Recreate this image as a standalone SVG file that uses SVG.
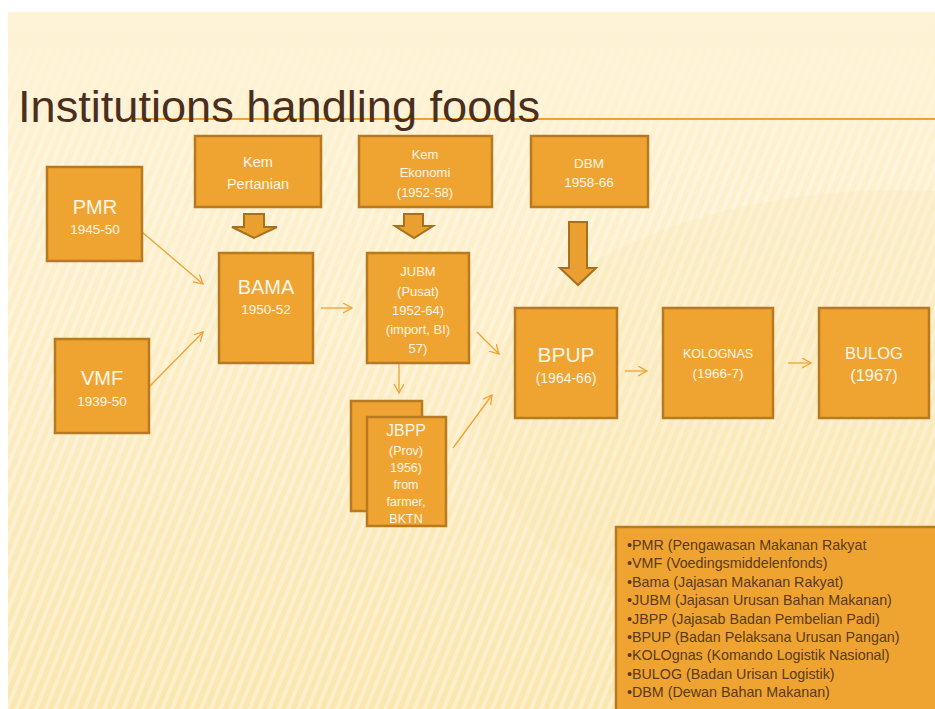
<svg xmlns="http://www.w3.org/2000/svg" width="935" height="709" viewBox="0 0 935 709">
<defs>
<linearGradient id="bg" x1="0" y1="0" x2="0" y2="1">
<stop offset="0" stop-color="#FDF3D6"/>
<stop offset="0.5" stop-color="#FCEDC4"/>
<stop offset="1" stop-color="#FBE6AE"/>
</linearGradient>
<pattern id="stripes" width="9" height="9" patternUnits="userSpaceOnUse" patternTransform="rotate(22)">
<rect width="4" height="9" fill="#FFFFFF" opacity="0.35"/>
</pattern>
<linearGradient id="fade" x1="0" y1="0" x2="0" y2="1">
<stop offset="0" stop-color="#fff" stop-opacity="0"/>
<stop offset="0.25" stop-color="#fff" stop-opacity="1"/>
<stop offset="1" stop-color="#fff" stop-opacity="1"/>
</linearGradient>
<mask id="m"><rect x="8" y="12" width="927" height="697" fill="url(#fade)"/></mask>
<marker id="ah" markerWidth="12" markerHeight="12" refX="9" refY="5" orient="auto" markerUnits="userSpaceOnUse">
<path d="M0,0 L9,5 L0,10" fill="none" stroke="#EFA233" stroke-width="1.3"/>
</marker>
<style>
.box{fill:#EFA431;stroke:#B87A20;stroke-width:2.5}
.blk{fill:#E9A030;stroke:#A86F1C;stroke-width:2}
.t{font-family:"Liberation Sans",Arial,sans-serif;fill:#FFF6E8;text-anchor:middle}
.lg{font-family:"Liberation Sans",Arial,sans-serif;fill:#5A391C;font-size:14.3px}
.c{fill:none;stroke:#EFA233;stroke-width:1.3;marker-end:url(#ah)}
</style>
</defs>
<rect width="935" height="709" fill="#FFFFFF"/>
<rect x="8" y="12" width="927" height="697" fill="url(#bg)"/>
<rect x="8" y="12" width="927" height="697" fill="url(#stripes)" mask="url(#m)"/>
<ellipse cx="900" cy="420" rx="420" ry="230" fill="#F8E3A8" opacity="0.18"/>
<line x1="125" y1="119" x2="935" y2="119" stroke="#EFA233" stroke-width="2"/>
<text x="18" y="122" font-family="Liberation Sans,Arial,sans-serif" font-size="44" fill="#4A2E1E" textLength="522" lengthAdjust="spacingAndGlyphs">Institutions handling foods</text>

<g id="connectors">
<line class="c" x1="142" y1="232" x2="203" y2="284"/>
<line class="c" x1="150" y1="386" x2="203" y2="332"/>
<line class="c" x1="321" y1="308" x2="352" y2="308"/>
<line class="c" x1="477" y1="332" x2="499" y2="354"/>
<line class="c" x1="399" y1="363" x2="399" y2="393"/>
<line class="c" x1="453" y1="448" x2="492" y2="395"/>
<line class="c" x1="625" y1="371" x2="647" y2="371"/>
<line class="c" x1="788" y1="363" x2="811" y2="363"/>
<path class="blk" d="M244,214 L264,214 L264,227 L277,227 L254,238 L232,227 L244,227 Z"/>
<path class="blk" d="M404,214 L423,214 L423,226 L433,226 L414,238 L395,226 L404,226 Z"/>
<path class="blk" d="M569,222 L587,222 L587,268 L596,268 L578,285 L560,268 L569,268 Z"/>
</g>

<g id="pmr">
<rect class="box" x="47" y="167" width="95" height="94"/>
<text class="t" x="95" y="214" font-size="20">PMR</text>
<text class="t" x="95" y="234" font-size="13.5">1945-50</text>
</g>
<g id="vmf">
<rect class="box" x="55" y="339" width="94" height="94"/>
<text class="t" x="102" y="385" font-size="20">VMF</text>
<text class="t" x="102" y="406" font-size="13.5">1939-50</text>
</g>
<g id="kem-pertanian">
<rect class="box" x="195" y="136" width="126" height="71"/>
<text class="t" x="258" y="167" font-size="14.5">Kem</text>
<text class="t" x="258" y="189" font-size="14.5">Pertanian</text>
</g>
<g id="bama">
<rect class="box" x="219" y="253" width="94" height="110"/>
<text class="t" x="266" y="294" font-size="20">BAMA</text>
<text class="t" x="266" y="314" font-size="13.5">1950-52</text>
</g>
<g id="kem-ekonomi">
<rect class="box" x="359" y="136" width="133" height="71"/>
<text class="t" x="425" y="159" font-size="13">Kem</text>
<text class="t" x="425" y="177" font-size="13">Ekonomi</text>
<text class="t" x="425" y="197" font-size="13">(1952-58)</text>
</g>
<g id="dbm">
<rect class="box" x="531" y="136" width="117" height="71"/>
<text class="t" x="589" y="168" font-size="13.5">DBM</text>
<text class="t" x="589" y="187" font-size="13.5">1958-66</text>
</g>
<g id="jubm">
<rect class="box" x="367" y="253" width="102" height="110"/>
<text class="t" x="418" y="276" font-size="13">JUBM</text>
<text class="t" x="418" y="296" font-size="13">(Pusat)</text>
<text class="t" x="418" y="315" font-size="13">1952-64)</text>
<text class="t" x="418" y="334" font-size="13">(import, BI)</text>
<text class="t" x="418" y="353" font-size="13">57)</text>
</g>
<g id="jbpp">
<rect class="box" x="351" y="401" width="71" height="110"/>
<rect class="box" x="367" y="417" width="79" height="109"/>
<text class="t" x="406" y="436" font-size="16">JBPP</text>
<text class="t" x="406" y="455" font-size="12.5">(Prov)</text>
<text class="t" x="406" y="472" font-size="12.5">1956)</text>
<text class="t" x="406" y="489" font-size="12.5">from</text>
<text class="t" x="406" y="506" font-size="12.5">farmer,</text>
<text class="t" x="406" y="523" font-size="12.5">BKTN</text>
</g>
<g id="bpup">
<rect class="box" x="515" y="308" width="102" height="110"/>
<text class="t" x="566" y="362" font-size="21">BPUP</text>
<text class="t" x="566" y="383" font-size="14">(1964-66)</text>
</g>
<g id="kolognas">
<rect class="box" x="663" y="308" width="110" height="110"/>
<text class="t" x="718" y="358" font-size="12.5">KOLOGNAS</text>
<text class="t" x="718" y="378" font-size="13.5">(1966-7)</text>
</g>
<g id="bulog">
<rect class="box" x="819" y="308" width="110" height="110"/>
<text class="t" x="874" y="359" font-size="16.5">BULOG</text>
<text class="t" x="874" y="381" font-size="16.5">(1967)</text>
</g>
<g id="legend">
<rect class="box" x="616" y="527" width="325" height="190"/>
<text class="lg" x="627" y="550">•PMR (Pengawasan Makanan Rakyat</text>
<text class="lg" x="627" y="568">•VMF (Voedingsmiddelenfonds)</text>
<text class="lg" x="627" y="587">•Bama (Jajasan Makanan Rakyat)</text>
<text class="lg" x="627" y="605">•JUBM (Jajasan Urusan Bahan Makanan)</text>
<text class="lg" x="627" y="624">•JBPP (Jajasab Badan Pembelian Padi)</text>
<text class="lg" x="627" y="642">•BPUP (Badan Pelaksana Urusan Pangan)</text>
<text class="lg" x="627" y="660">•KOLOgnas (Komando Logistik Nasional)</text>
<text class="lg" x="627" y="679">•BULOG (Badan Urisan Logistik)</text>
<text class="lg" x="627" y="697">•DBM (Dewan Bahan Makanan)</text>
</g>
</svg>
